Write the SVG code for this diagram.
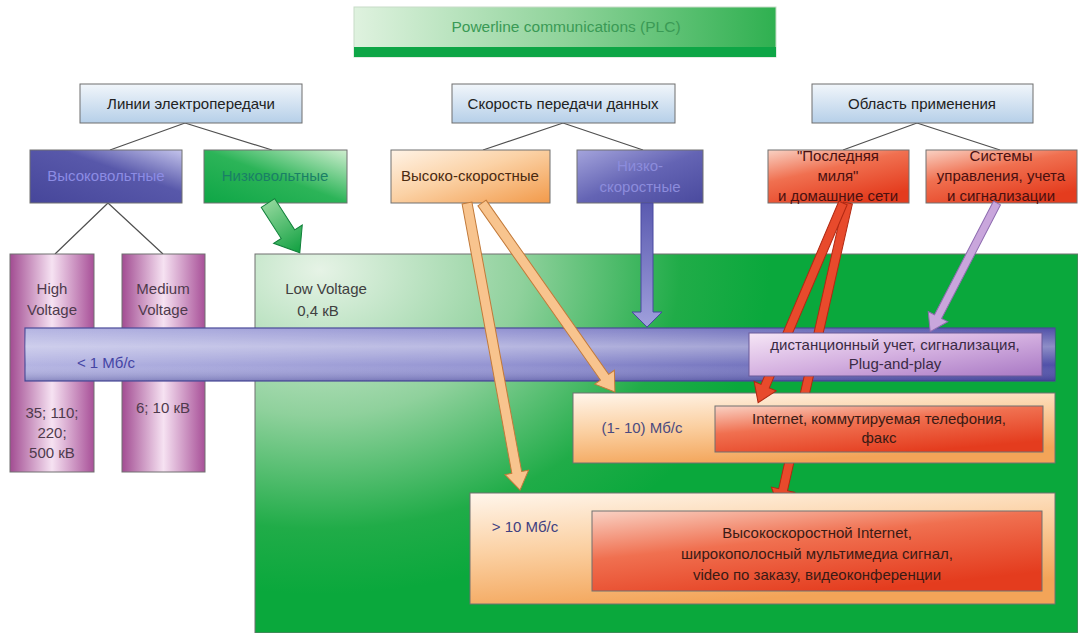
<svg xmlns="http://www.w3.org/2000/svg" width="1078" height="633" viewBox="0 0 1078 633">
<defs>
<linearGradient id="gTitle" x1="0" y1="0" x2="1" y2="0"><stop offset="0" stop-color="#dff2df"/><stop offset="0.5" stop-color="#8fd39a"/><stop offset="1" stop-color="#2fb050"/></linearGradient>
<linearGradient id="gHdr" x1="0" y1="0" x2="0" y2="1"><stop offset="0" stop-color="#f1f6fb"/><stop offset="1" stop-color="#b6cfe8"/></linearGradient>
<linearGradient id="gBlueA" x1="0" y1="1" x2="1" y2="0"><stop offset="0" stop-color="#46469a"/><stop offset="0.6" stop-color="#5858aa"/><stop offset="1" stop-color="#c4c4ec"/></linearGradient>
<linearGradient id="gBlueB" x1="0" y1="0" x2="1" y2="1"><stop offset="0" stop-color="#a4a4dc"/><stop offset="0.5" stop-color="#6464b4"/><stop offset="1" stop-color="#4a4a9e"/></linearGradient>
<linearGradient id="gGreenBox" x1="0" y1="1" x2="1" y2="0"><stop offset="0" stop-color="#0ea646"/><stop offset="0.5" stop-color="#2cb458"/><stop offset="1" stop-color="#cfeecf"/></linearGradient>
<linearGradient id="gOrange" x1="0" y1="0" x2="1" y2="1"><stop offset="0" stop-color="#fff3e6"/><stop offset="0.45" stop-color="#fbd2a6"/><stop offset="1" stop-color="#f29a4a"/></linearGradient>
<linearGradient id="gOrangeWide" x1="0" y1="0" x2="0.35" y2="1"><stop offset="0" stop-color="#fff6ec"/><stop offset="0.5" stop-color="#fbd0a2"/><stop offset="1" stop-color="#f3a458"/></linearGradient>
<linearGradient id="gRed" x1="0" y1="0" x2="0.6" y2="1"><stop offset="0" stop-color="#f9d2c4"/><stop offset="0.45" stop-color="#f07050"/><stop offset="1" stop-color="#e43c1e"/></linearGradient>
<linearGradient id="gPillar" x1="0" y1="0" x2="1" y2="0"><stop offset="0" stop-color="#a24c92"/><stop offset="0.5" stop-color="#f6e2f2"/><stop offset="1" stop-color="#a85098"/></linearGradient>
<linearGradient id="gBarH" x1="0" y1="0" x2="1" y2="0"><stop offset="0" stop-color="#b4b4e2"/><stop offset="0.45" stop-color="#9494d2"/><stop offset="1" stop-color="#5050a8"/></linearGradient>
<linearGradient id="gBarV" x1="0" y1="0" x2="0" y2="1"><stop offset="0" stop-color="#ffffff" stop-opacity="0"/><stop offset="0.35" stop-color="#ffffff" stop-opacity="0.35"/><stop offset="0.7" stop-color="#ffffff" stop-opacity="0"/><stop offset="1" stop-color="#202070" stop-opacity="0.3"/></linearGradient>
<linearGradient id="gLav" x1="0" y1="0" x2="1" y2="1"><stop offset="0" stop-color="#f6e6f6"/><stop offset="0.5" stop-color="#d4b0e0"/><stop offset="1" stop-color="#a878c4"/></linearGradient>
<radialGradient id="gField" gradientUnits="userSpaceOnUse" cx="320" cy="270" r="450" gradientTransform="translate(320 270) scale(1 0.72) translate(-320 -270)"><stop offset="0" stop-color="#e6f3e6"/><stop offset="0.45" stop-color="#8fd19c"/><stop offset="0.8" stop-color="#20ac48"/><stop offset="1" stop-color="#0aa83c"/></radialGradient>
<linearGradient id="gArrGreen" x1="0" y1="0" x2="1" y2="0"><stop offset="0" stop-color="#8fd69a"/><stop offset="1" stop-color="#10a040"/></linearGradient>
<linearGradient id="gArrBlue" x1="0" y1="0" x2="1" y2="0"><stop offset="0" stop-color="#5a5ab0"/><stop offset="1" stop-color="#a0a0dc"/></linearGradient>
<clipPath id="clipB"><rect x="700" y="463" width="200" height="60"/></clipPath>
</defs>
<style>
.t{font-family:"Liberation Sans",Arial,sans-serif;font-size:15px;text-anchor:middle}
.hdr{fill:url(#gHdr);stroke:#6e6e6e;stroke-width:1}
.box{stroke:#707070;stroke-width:1}
.ln{stroke:#505050;stroke-width:1.2;fill:none}
.arO{fill:#f8c48e;stroke:#c27a3a;stroke-width:1}
.arR{fill:#e84a2c;stroke:#b02812;stroke-width:1}
.arL{fill:#c9a6dc;stroke:#8e6cb0;stroke-width:1}
.arB{fill:url(#gArrBlue);stroke:#4848a0;stroke-width:1}
.arG{fill:url(#gArrGreen);stroke:#10803a;stroke-width:1}
</style>

<g id="title">
<rect x="354" y="7" width="422" height="50" fill="url(#gTitle)" stroke="#c8dcc8" stroke-width="1"/>
<rect x="354" y="47" width="422" height="10" fill="#0ea646"/>
<text class="t" x="566" y="32" style="font-size:15.5px;fill:#3a9a55">Powerline communications (PLC)</text>
</g>

<g id="connectors-lines">
<path class="ln" d="M185 123 L110 150 M185 123 L272 150"/>
<path class="ln" d="M563 123 L483 150 M563 123 L643 150"/>
<path class="ln" d="M917 123 L843 150 M917 123 L1000 150"/>
<path class="ln" d="M108 203 L55 254 M108 203 L163 254"/>
</g>

<g id="hdr-lines"><rect class="hdr" x="80" y="84" width="222" height="39"/><text class="t" x="191" y="109" fill="#222">Линии электропередачи</text></g>
<g id="hdr-speed"><rect class="hdr" x="452" y="84" width="223" height="39"/><text class="t" x="563" y="109" fill="#222">Скорость передачи данных</text></g>
<g id="hdr-area"><rect class="hdr" x="812" y="84" width="221" height="39"/><text class="t" x="922" y="109" fill="#222">Область применения</text></g>

<g id="hv"><rect class="box" x="30" y="150" width="152" height="53" fill="url(#gBlueA)"/><text class="t" x="106" y="181" fill="#8c8ce4">Высоковольтные</text></g>
<g id="lv"><rect class="box" x="204" y="150" width="143" height="53" fill="url(#gGreenBox)"/><text class="t" x="275" y="181" fill="#1a7f66">Низковольтные</text></g>
<g id="hs"><rect class="box" x="391" y="150" width="159" height="53" fill="url(#gOrange)"/><text class="t" x="470" y="181" fill="#4a2a10">Высоко-скоростные</text></g>
<g id="ls"><rect class="box" x="577" y="150" width="126" height="53" fill="url(#gBlueB)"/><text class="t" x="640" y="171" fill="#8c8cdc">Низко-</text><text class="t" x="640" y="192" fill="#8c8cdc">скоростные</text></g>
<g id="lastmile"><rect class="box" x="768" y="150" width="141" height="53" fill="url(#gRed)"/><text class="t" x="838" y="161" fill="#4a1010">"Последняя</text><text class="t" x="838" y="181" fill="#4a1010">миля"</text><text class="t" x="838" y="201" fill="#4a1010">и домашние сети</text></g>
<g id="control"><rect class="box" x="926" y="150" width="151" height="53" fill="url(#gRed)"/><text class="t" x="1001" y="161" fill="#4a1010">Системы</text><text class="t" x="1001" y="181" fill="#4a1010">управления, учета</text><text class="t" x="1001" y="201" fill="#4a1010">и сигнализации</text></g>

<g id="field"><rect x="255" y="254" width="823" height="379" fill="url(#gField)" stroke="#707070" stroke-width="1"/>
<text class="t" x="326" y="294" fill="#404040">Low Voltage</text><text class="t" x="318" y="316" fill="#404040">0,4 кВ</text></g>

<g id="pillar-high"><rect class="box" x="10" y="254" width="84" height="218" fill="url(#gPillar)"/>
<text class="t" x="52" y="294" fill="#4e3a4c">High</text><text class="t" x="52" y="315" fill="#4e3a4c">Voltage</text>
<text class="t" x="52" y="418" fill="#4e3a4c">35; 110;</text><text class="t" x="52" y="438" fill="#4e3a4c">220;</text><text class="t" x="52" y="458" fill="#4e3a4c">500 кВ</text></g>
<g id="pillar-medium"><rect class="box" x="122" y="254" width="83" height="218" fill="url(#gPillar)"/>
<text class="t" x="163" y="294" fill="#4e3a4c">Medium</text><text class="t" x="163" y="315" fill="#4e3a4c">Voltage</text>
<text class="t" x="163" y="413" fill="#4e3a4c">6; 10 кВ</text></g>

<g id="bar-low">
<rect x="25" y="328" width="1030" height="53" fill="url(#gBarH)" stroke="#4a4a98" stroke-width="1.2"/>
<rect x="25" y="328" width="1030" height="53" fill="url(#gBarV)"/>
<text class="t" x="106" y="368" fill="#4444a4">&lt; 1 Мб/с</text>
</g>

<g id="connectors-back">
<polygon class="arR" points="0,-4.5 294,-4.5 294,-12 313,0 294,12 294,4.5 0,4.5" transform="translate(848 203) rotate(102.75)"/>
</g>

<g id="box-mid"><rect class="box" x="573" y="393" width="482" height="70" fill="url(#gOrangeWide)"/>
<text class="t" x="642" y="433" fill="#4a4a80">(1- 10) Мб/с</text></g>
<g id="box-mid-app"><rect class="box" x="715" y="406" width="328" height="46" fill="url(#gRed)" stroke="#8a3030"/>
<text class="t" x="879" y="424" fill="#3a1a14">Internet, коммутируемая телефония,</text><text class="t" x="879" y="443" fill="#3a1a14">факс</text></g>

<g id="connectors">
<polygon class="arG" points="0,-8 37,-8 37,-17 59,0 37,17 37,8 0,8" transform="translate(268 203) rotate(57.38)"/>
<polygon class="arO" points="0,-5 274,-5 274,-12 292,0 274,12 274,5 0,5" transform="translate(467 203) rotate(79.54)"/>
<polygon class="arO" points="0,-5 213,-5 213,-12 231,0 213,12 213,5 0,5" transform="translate(482 203) rotate(54.87)"/>
<polygon class="arB" points="0,-6 109,-6 109,-15 124,0 109,15 109,6 0,6" transform="translate(647 203) rotate(90)"/>
<polygon class="arR" points="0,-4.5 199,-4.5 199,-12 217,0 199,12 199,4.5 0,4.5" transform="translate(843 203) rotate(113.03)"/>
<polygon class="arL" points="0,-4 128,-4 128,-11 145,0 128,11 128,4 0,4" transform="translate(997 203) rotate(117.44)"/>
</g>

<g id="box-app-lav"><rect x="749" y="333" width="293" height="43" fill="url(#gLav)" stroke="#6a5a9a" stroke-width="1"/>
<text class="t" x="895" y="350" fill="#3a2a44">дистанционный учет, сигнализация,</text><text class="t" x="895" y="369" fill="#3a2a44">Plug-and-play</text></g>

<g id="box-high"><rect class="box" x="470" y="493" width="585" height="111" fill="url(#gOrangeWide)"/>
<text class="t" x="525" y="532" fill="#404080">&gt; 10 Мб/с</text></g>
<g id="box-high-app"><rect class="box" x="592" y="511" width="450" height="80" fill="url(#gRed)" stroke="#8a3030"/>
<text class="t" x="817" y="538" fill="#3a1a14">Высокоскоростной Internet,</text>
<text class="t" x="817" y="559" fill="#3a1a14">широкополосный мультимедиа сигнал,</text>
<text class="t" x="817" y="580" fill="#3a1a14">video по заказу, видеоконференции</text></g>

<g id="connectors-front">
<polygon class="arR" points="0,-4.5 294,-4.5 294,-12 313,0 294,12 294,4.5 0,4.5" transform="translate(848 203) rotate(102.75)" clip-path="url(#clipB)"/>
</g>
</svg>
